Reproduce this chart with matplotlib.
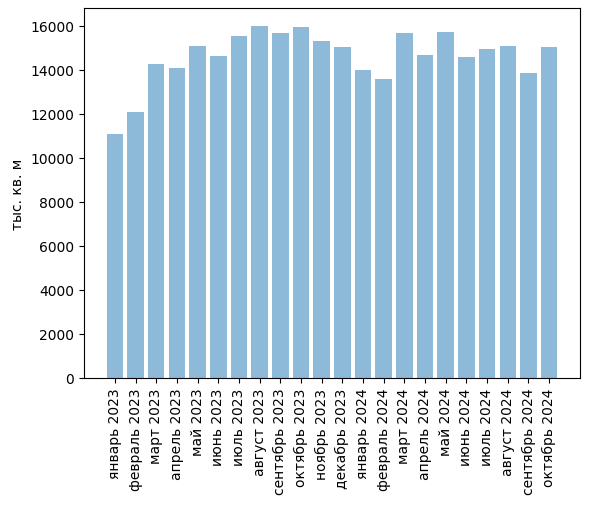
import matplotlib
matplotlib.use('Agg')
import matplotlib.pyplot as plt

# monthly values, thousand sq. m
months = ['январь 2023', 'февраль 2023', 'март 2023', 'апрель 2023', 'май 2023',
          'июнь 2023', 'июль 2023', 'август 2023', 'сентябрь 2023', 'октябрь 2023',
          'ноябрь 2023', 'декабрь 2023', 'январь 2024', 'февраль 2024', 'март 2024',
          'апрель 2024', 'май 2024', 'июнь 2024', 'июль 2024', 'август 2024',
          'сентябрь 2024', 'октябрь 2024']
area = [11090, 12090, 14270, 14090, 15090, 14640, 15550, 16000, 15680, 15950,
        15320, 15050, 14000, 13590, 15680, 14680, 15730, 14590, 14950, 15090,
        13860, 15050]

fig = plt.figure(figsize=(5.89, 5.06), dpi=100)
ax = fig.add_axes([84 / 589, 1 - 379 / 506, 496 / 589, 370 / 506])
ax.bar(months, area, color='C0', alpha=0.5)
ax.set_ylabel('тыс. кв. м')
plt.xticks(rotation=90)
fig.savefig('out.png', dpi=100)
